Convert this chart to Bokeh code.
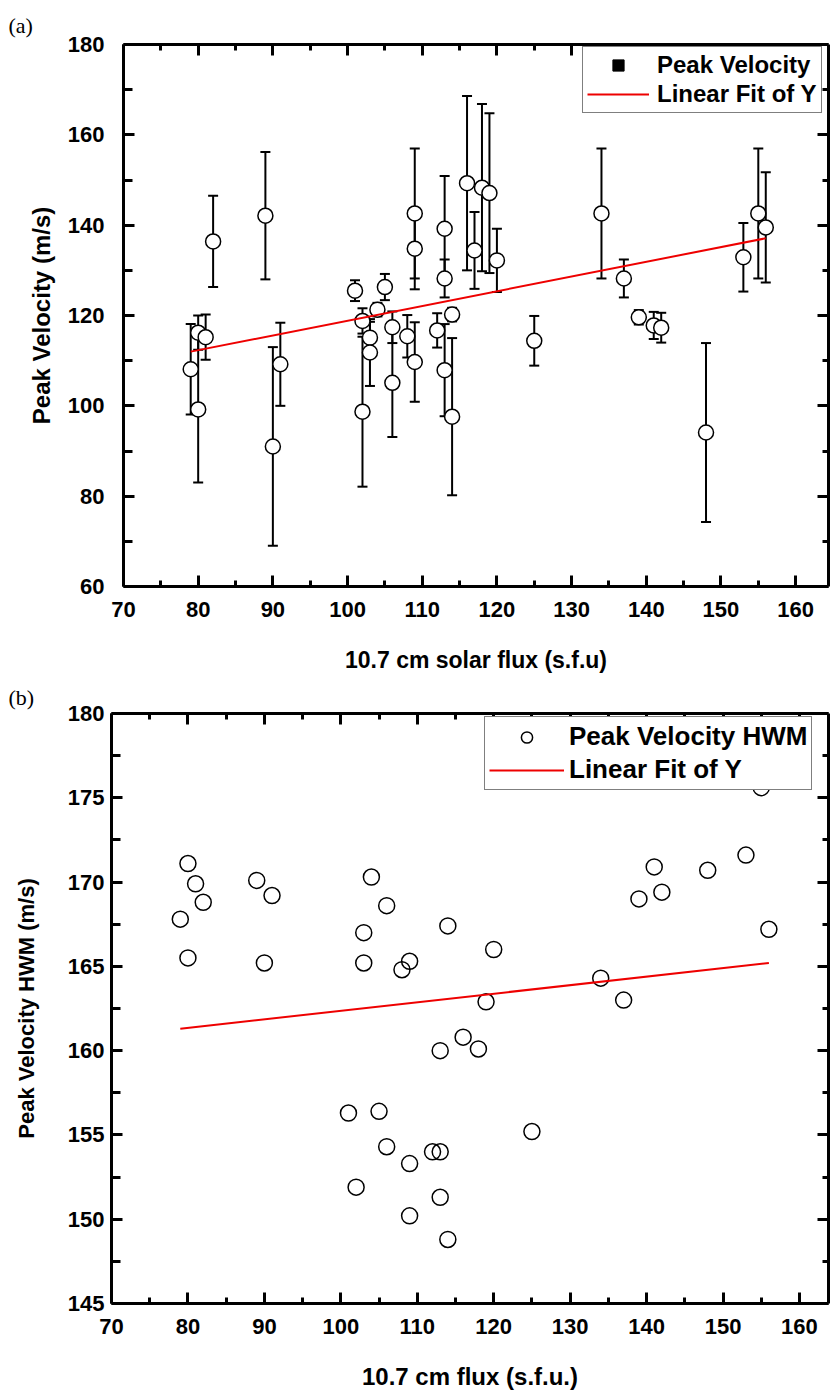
from bokeh.plotting import figure
from bokeh.models import (Range1d, LinearAxis, Whisker, ColumnDataSource, Legend,
                          LegendItem, FixedTicker, CustomJSTickFormatter, TeeHead, Title)
from bokeh.layouts import column
from bokeh.embed import file_html
from bokeh.resources import INLINE

# ---------------- data: panel (a) ----------------
flux_a = [79, 80, 80, 81, 82, 89, 90, 91, 101, 102, 102, 103, 103, 104, 105, 106, 106,
          108, 109, 109, 109, 112, 113, 113, 113, 114, 114, 116, 117, 118, 119, 120,
          125, 134, 137, 139, 141, 142, 148, 153, 155, 156]
vel_a = [108.1, 116.2, 99.2, 115.2, 136.4, 142.1, 91.0, 109.2, 125.5, 118.8, 98.7,
         115.1, 111.8, 121.3, 126.3, 117.4, 105.1, 115.4, 142.6, 134.8, 109.7, 116.7,
         139.2, 128.2, 107.9, 120.2, 97.6, 149.3, 134.4, 148.3, 147.1, 132.2, 114.4,
         142.6, 128.2, 119.6, 117.8, 117.3, 94.1, 132.9, 142.6, 139.5]
err_a = [10.0, 3.8, 16.2, 5.0, 10.1, 14.1, 22.0, 9.2, 2.3, 2.8, 16.6, 3.5, 7.4, 1.5,
         2.9, 3.5, 12.0, 4.7, 14.4, 9.0, 8.8, 3.8, 11.7, 4.2, 10.2, 1.5, 17.4, 19.3,
         8.5, 18.5, 17.7, 7.0, 5.5, 14.4, 4.2, 1.6, 3.0, 3.3, 19.8, 7.6, 14.4, 12.2]
fit_x_a = [79, 156]
fit_y_a = [112.0, 137.1]

# ---------------- data: panel (b) ----------------
flux_b = [79, 80, 80, 81, 82, 89, 90, 91, 101, 102, 103, 103, 104, 105, 106, 106, 108,
          109, 109, 109, 112, 113, 113, 113, 114, 114, 116, 118, 119, 120, 125, 134,
          137, 139, 141, 142, 148, 153, 155, 156]
hwm_b = [167.8, 171.1, 165.5, 169.9, 168.8, 170.1, 165.2, 169.2, 156.3, 151.9, 167.0,
         165.2, 170.3, 156.4, 168.6, 154.3, 164.8, 165.3, 153.3, 150.2, 154.0, 160.0,
         154.0, 151.3, 167.4, 148.8, 160.8, 160.1, 162.9, 166.0, 155.2, 164.3, 163.0,
         169.0, 170.9, 169.4, 170.7, 171.6, 175.6, 167.2]
fit_x_b = [79, 156]
fit_y_b = [161.3, 165.2]

# ---------------- ticks ----------------
x_ticks = [70, 80, 90, 100, 110, 120, 130, 140, 150, 160]
x_minor = [75, 85, 95, 105, 115, 125, 135, 145, 155, 165]
ya_ticks = [60, 80, 100, 120, 140, 160, 180]
ya_minor = [70, 90, 110, 130, 150, 170]
yb_ticks = [145, 150, 155, 160, 165, 170, 175, 180]
yb_minor = [147.5, 152.5, 157.5, 162.5, 167.5, 172.5, 177.5]

SANS = "Liberation Sans"


def make_axis(ticks, minor, major_len, minor_len, labels=True):
    ax = LinearAxis(ticker=FixedTicker(ticks=ticks, minor_ticks=minor))
    ax.axis_line_width = 3
    ax.axis_line_color = "black"
    ax.major_tick_in = major_len
    ax.major_tick_out = 0
    ax.minor_tick_in = minor_len
    ax.minor_tick_out = 0
    ax.major_tick_line_width = 3
    ax.minor_tick_line_width = 3
    ax.major_tick_line_color = "black"
    ax.minor_tick_line_color = "black"
    if not labels:
        ax.formatter = CustomJSTickFormatter(code="return ''")
        ax.major_label_standoff = 0
        ax.major_label_text_font_size = "0px"
        ax.axis_label = None
    return ax


def make_fig(height, xr, yr, left, top, bottom, letter, letter_offset, letter_standoff,
             valign):
    p = figure(width=830, height=height, x_range=xr, y_range=yr,
               output_backend="svg", toolbar_location=None,
               x_axis_location=None, y_axis_location=None,
               min_border_left=left, min_border_right=2,
               min_border_top=top, min_border_bottom=bottom)
    p.frame_align = False
    p.outline_line_color = None
    p.xgrid.visible = False
    p.ygrid.visible = False
    p.background_fill_color = "white"
    p.border_fill_color = "white"
    p.title = Title(text=letter, align="left", offset=letter_offset,
                    standoff=letter_standoff, vertical_align=valign,
                    text_font="Liberation Serif", text_font_style="normal",
                    text_font_size="22px", text_color="black")
    return p


def style_x(ax, label, lbl_size, standoff_lbl):
    ax.major_label_text_font = SANS
    ax.major_label_text_font_style = "bold"
    ax.major_label_text_font_size = "22px"
    ax.major_label_text_color = "black"
    ax.major_label_standoff = 15
    ax.axis_label = label
    ax.axis_label_text_font = SANS
    ax.axis_label_text_font_style = "bold"
    ax.axis_label_text_font_size = lbl_size
    ax.axis_label_text_color = "black"
    ax.axis_label_standoff = standoff_lbl


def style_y(ax, label, tick_standoff, lbl_standoff, lbl_size):
    ax.major_label_text_font = SANS
    ax.major_label_text_font_style = "bold"
    ax.major_label_text_font_size = "22px"
    ax.major_label_text_color = "black"
    ax.major_label_standoff = tick_standoff
    ax.axis_label = label
    ax.axis_label_text_font = SANS
    ax.axis_label_text_font_style = "bold"
    ax.axis_label_text_font_size = lbl_size
    ax.axis_label_text_color = "black"
    ax.axis_label_standoff = lbl_standoff


def style_legend(leg, size, gw, gh, sp, pad, standoff):
    leg.label_text_font = SANS
    leg.label_text_font_style = "bold"
    leg.label_text_font_size = size
    leg.label_text_color = "black"
    leg.glyph_width = gw
    leg.glyph_height = gh
    leg.label_height = gh
    leg.spacing = sp
    leg.padding = pad
    leg.margin = 0
    leg.label_standoff = standoff
    leg.border_line_color = "black"
    leg.border_line_width = 1
    leg.background_fill_color = "white"
    leg.background_fill_alpha = 1


# ================= panel (a) =================
p1 = make_fig(680, Range1d(70, 164.4), Range1d(60, 180), 123, 44, 94, "(a)", -115, 12,
              "middle")
xa = make_axis(x_ticks, x_minor, 11, 6)
style_x(xa, "10.7 cm solar flux (s.f.u)", "23px", 27)
ya = make_axis(ya_ticks, ya_minor, 11, 9)
style_y(ya, "Peak Velocity (m/s)", 19, 10, "24px")
p1.add_layout(xa, "below")
p1.add_layout(ya, "left")
p1.add_layout(make_axis(x_ticks, x_minor, 11, 6, labels=False), "above")
p1.add_layout(make_axis(ya_ticks, ya_minor, 11, 6, labels=False), "right")

src_a = ColumnDataSource(dict(x=flux_a, y=vel_a,
                              lo=[v - e for v, e in zip(vel_a, err_a)],
                              hi=[v + e for v, e in zip(vel_a, err_a)]))
wh = Whisker(source=src_a, base="x", upper="hi", lower="lo", dimension="height",
             line_width=2, line_color="black", level="underlay",
             upper_head=TeeHead(size=10, line_width=2, line_color="black"),
             lower_head=TeeHead(size=10, line_width=2, line_color="black"))
p1.add_layout(wh)
# square symbol (legend glyph) sits underneath each open circle
sq = p1.scatter("x", "y", source=src_a, marker="square", size=9, fill_color="black",
                line_color="black")
p1.scatter("x", "y", source=src_a, marker="circle", size=15, fill_color="white",
           line_color="black", line_width=1.5)
fit_a = p1.line(fit_x_a, fit_y_a, line_color="#ee0000", line_width=2)

leg1 = Legend(items=[LegendItem(label="Peak Velocity", renderers=[sq]),
                     LegendItem(label="Linear Fit of Y", renderers=[fit_a])],
              location=(459, 473))
style_legend(leg1, "24px", 62, 28, 1, 4, 8)
p1.add_layout(leg1, "center")

# ================= panel (b) =================
p2 = make_fig(713, Range1d(70, 163.8), Range1d(145, 180), 111, 33, 90, "(b)", -103, 4,
              "top")
xb = make_axis(x_ticks, x_minor, 11, 6)
style_x(xb, "10.7 cm flux (s.f.u.)", "24px", 26)
yb = make_axis(yb_ticks, yb_minor, 11, 9)
style_y(yb, "Peak Velocity HWM (m/s)", 7, 26, "22px")
p2.add_layout(xb, "below")
p2.add_layout(yb, "left")
p2.add_layout(make_axis(x_ticks, x_minor, 11, 6, labels=False), "above")
p2.add_layout(make_axis(yb_ticks, yb_minor, 11, 6, labels=False), "right")

src_b = ColumnDataSource(dict(x=flux_b, y=hwm_b))
circ_b = p2.scatter("x", "y", source=src_b, marker="circle", size=16, fill_color="white",
                    fill_alpha=0, line_color="black", line_width=1.5)
fit_b = p2.line(fit_x_b, fit_y_b, line_color="#ee0000", line_width=2)

leg2 = Legend(items=[LegendItem(label="Peak Velocity HWM", renderers=[circ_b]),
                     LegendItem(label="Linear Fit of Y", renderers=[fit_b])],
              location=(373, 513))
style_legend(leg2, "26px", 75, 28, 2, 4, 5)
p2.add_layout(leg2, "center")

layout = column(p1, p2, spacing=0)
open("out.html", "w").write(file_html(layout, INLINE))
